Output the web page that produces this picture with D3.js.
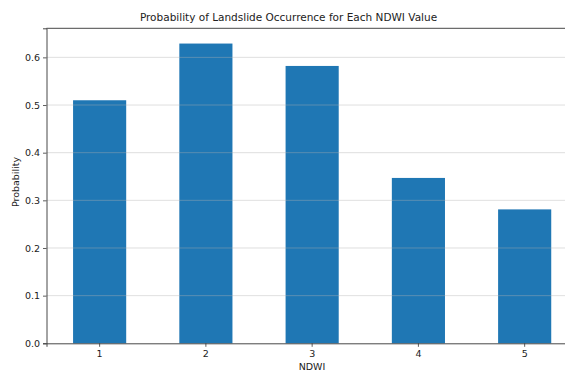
<!DOCTYPE html>
<html><head><meta charset="utf-8">
<script src="https://cdn.jsdelivr.net/npm/d3@7"></script>
<style>html,body{margin:0;padding:0;background:#fff;overflow:hidden}svg{display:block}</style>
</head><body>
<script>
const categories = ["1","2","3","4","5"];
const probabilities = [0.51, 0.629, 0.582, 0.347, 0.281];
const yTicks = [0.0, 0.1, 0.2, 0.3, 0.4, 0.5, 0.6];

const W = 565, H = 372;
const m = {left: 46.5, top: 28.3, bottom: 343.3, right: 577.8};
const svg = d3.select("body").append("svg").attr("width", W).attr("height", H)
  .style("font-family", "DejaVu Sans, sans-serif");

const x = d3.scaleBand().domain(categories).range([m.left, m.right]).paddingInner(0.5).paddingOuter(0.25);
const y = d3.scaleLinear().domain([0, 0.661]).range([m.bottom, m.top]);

svg.append("g").selectAll("rect").data(probabilities).join("rect")
  .attr("x", (d,i) => x(categories[i]))
  .attr("width", x.bandwidth())
  .attr("y", d => y(d))
  .attr("height", d => y(0) - y(d))
  .attr("fill", "#1f77b4");

svg.append("g").selectAll("line").data(yTicks.slice(1)).join("line")
  .attr("x1", m.left).attr("x2", m.right)
  .attr("y1", d => y(d)).attr("y2", d => y(d))
  .attr("stroke", "#b0b0b0").attr("stroke-opacity", 0.45).attr("stroke-width", 0.9);

const yAxis = svg.append("g").attr("transform", `translate(${m.left},0)`)
  .call(d3.axisLeft(y).tickValues(yTicks).tickFormat(d3.format(".1f")).tickSizeOuter(0).tickSize(3.5).tickPadding(3));
const xAxis = svg.append("g").attr("transform", `translate(0,${m.bottom})`)
  .call(d3.axisBottom(x).tickSizeOuter(0).tickSize(3.5).tickPadding(3));
[yAxis, xAxis].forEach(g => {
  g.select(".domain").attr("stroke", "#333").attr("stroke-width", 0.9);
  g.selectAll(".tick line").attr("stroke", "#333").attr("stroke-width", 0.8);
  g.selectAll(".tick text").attr("fill", "#222").style("font-size", "9.5px").style("font-family", "DejaVu Sans, sans-serif");
});
svg.append("line").attr("x1", m.left).attr("x2", m.right).attr("y1", m.top).attr("y2", m.top)
  .attr("stroke", "#333").attr("stroke-width", 0.9);

svg.append("text").attr("x", 288.5).attr("y", 21).attr("text-anchor", "middle")
  .style("font-size", "10.5px").attr("fill", "#222")
  .text("Probability of Landslide Occurrence for Each NDWI Value");
svg.append("text").attr("x", 312).attr("y", 370).attr("text-anchor", "middle")
  .style("font-size", "9.5px").attr("fill", "#222").text("NDWI");
svg.append("text").attr("transform", `translate(19,182) rotate(-90)`)
  .attr("text-anchor", "middle").style("font-size", "9.5px").attr("fill", "#222").text("Probability");
</script>
</body></html>
